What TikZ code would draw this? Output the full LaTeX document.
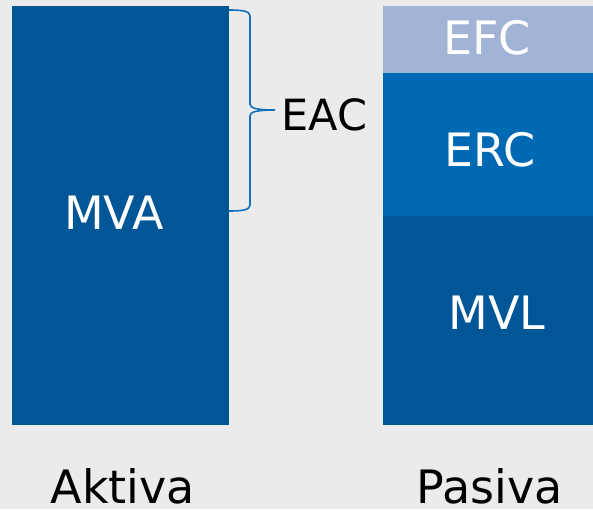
\documentclass[tikz,border=0pt]{standalone}
\usepackage{fontspec}
\setmainfont{DejaVu Sans}
\definecolor{bgcol}{HTML}{EBEBEB}
\definecolor{darkblue}{HTML}{005696}
\definecolor{midblue}{HTML}{0069B4}
\definecolor{paleblue}{HTML}{A2B4D5}
\definecolor{bracecol}{HTML}{1070BE}
\tikzset{
  boxtext/.style={text=white, anchor=base, inner sep=0pt, font=\fontsize{46}{46}\selectfont},
  caption/.style={text=black, anchor=base, inner sep=0pt, text depth=0pt, font=\fontsize{46}{46}\selectfont},
}
\begin{document}
\begin{tikzpicture}[x=1pt, y=-1pt]
  \fill[bgcol] (0,0) rectangle (593,509);
  \useasboundingbox (0,0) rectangle (593,509);
  % assets column
  \fill[darkblue] (12,6) rectangle (229,425);
  \node[boxtext] (mva) at (114,229) {MVA};
  % liabilities column
  \fill[paleblue] (383,6) rectangle (593,73);
  \fill[midblue] (383,73) rectangle (593,216);
  \fill[darkblue] (383,216) rectangle (593,425);
  \node[boxtext] (efc) at (487,54) {EFC};
  \node[boxtext] (erc) at (490,166) {ERC};
  \node[boxtext] (mvl) at (497,329) {MVL};
  % brace over the current assets part
  \draw[bracecol, line width=1.6pt]
    (229,10) .. controls (242,10) and (250,11) .. (250,16)
    -- (250,104) .. controls (250,108) and (256,110) .. (275,110)
    .. controls (256,110) and (250,112) .. (250,116)
    -- (250,205) .. controls (250,210) and (242,211) .. (229,211);
  \node[text=black, font=\fontsize{43}{43}\selectfont, anchor=base west, inner sep=0pt] (eac) at (281,130) {EAC};
  % column captions
  \node[caption] (aktiva) at (123,503) {Aktiva};
  \node[caption] (pasiva) at (490,503) {Pasiva};
\end{tikzpicture}
\end{document}
